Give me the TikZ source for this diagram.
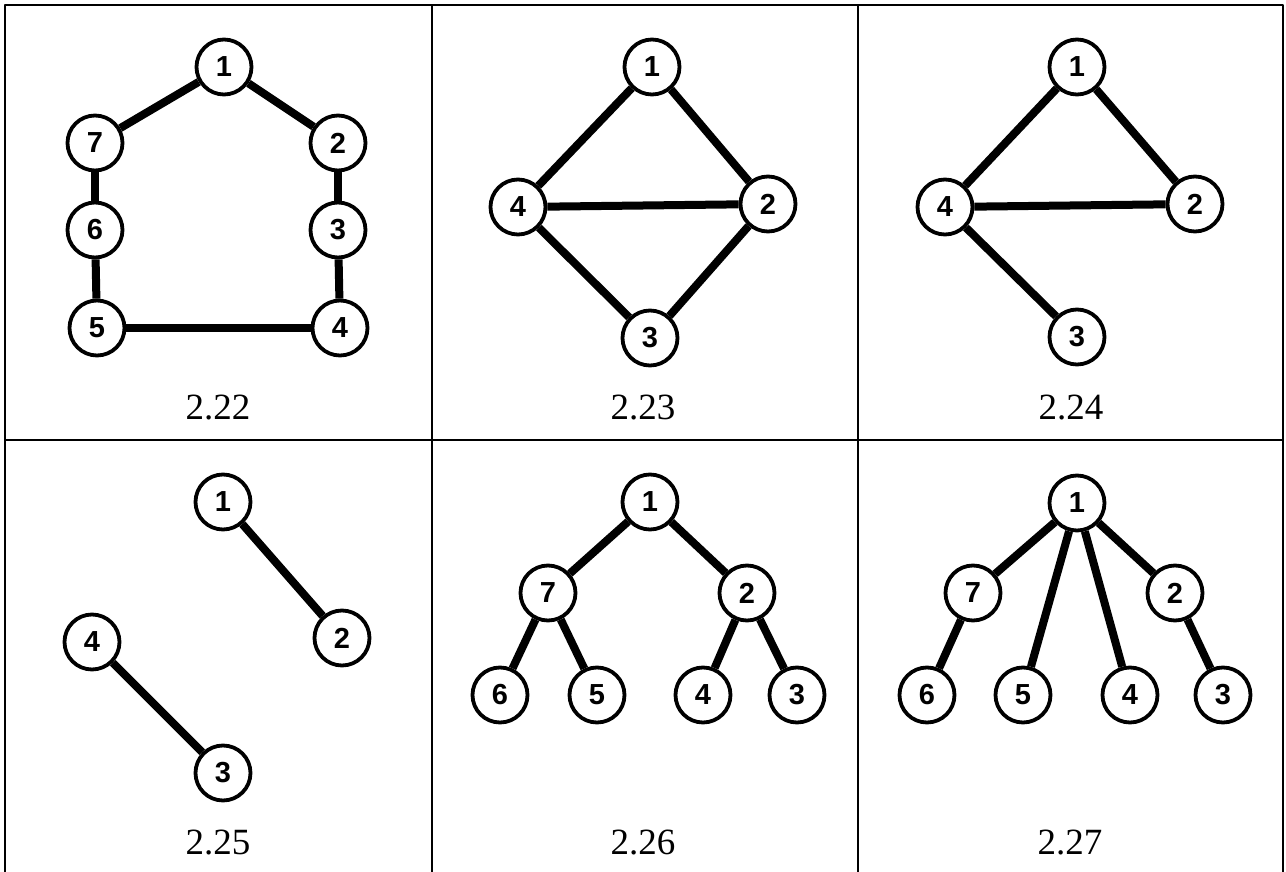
\documentclass[tikz,border=0pt]{standalone}
\usepackage{fontspec}
\setmainfont{Liberation Serif}
\newfontfamily\vtxfont{Liberation Sans}
\begin{document}
\begin{tikzpicture}[x=1pt, y=-1pt, line join=round,
	vtx/.style={circle, draw, fill=white, line width=3.8pt, minimum size=55pt, inner sep=0pt, font=\vtxfont\bfseries\fontsize{29}{31}\selectfont},
	edg/.style={line width=8pt},
	figlbl/.style={font=\fontsize{37}{42}\selectfont},
	grid/.style={line width=2.2pt}]
	\useasboundingbox (0,0) rectangle (1286,872);
	% ==========================================
	% table
	\draw[grid] (5,872) -- (5,5) -- (1283,5) -- (1283,872);
	\draw[grid] (432,5) -- (432,872) (858,5) -- (858,872);
	\draw[grid] (5,440) -- (1283,440);
	% ==========================================
	% 2.22
	\node[vtx] (a1) at (224,67) {1};
	\node[vtx] (a2) at (338,143) {2};
	\node[vtx] (a3) at (338,230) {3};
	\node[vtx] (a4) at (340,328) {4};
	\node[vtx] (a5) at (97,328) {5};
	\node[vtx] (a6) at (95,230) {6};
	\node[vtx] (a7) at (95,143) {7};
	\foreach \u/\v in {1/2, 2/3, 3/4, 4/5, 5/6, 6/7, 7/1}
		\draw[edg] (a\u) -- (a\v);
	\node[figlbl] (capa) at (218,408) {2.22};
	% ==========================================
	% 2.23
	\node[vtx] (b1) at (652,67) {1};
	\node[vtx] (b2) at (768,204) {2};
	\node[vtx] (b3) at (650,338) {3};
	\node[vtx] (b4) at (518,207) {4};
	\foreach \u/\v in {1/2, 2/3, 3/4, 4/1, 4/2}
		\draw[edg] (b\u) -- (b\v);
	\node[figlbl] (capb) at (643,408) {2.23};
	% ==========================================
	% 2.24
	\node[vtx] (c1) at (1077,67) {1};
	\node[vtx] (c2) at (1195,204) {2};
	\node[vtx] (c3) at (1077,337) {3};
	\node[vtx] (c4) at (945,207) {4};
	\foreach \u/\v in {1/2, 4/1, 4/2, 4/3}
		\draw[edg] (c\u) -- (c\v);
	\node[figlbl] (capc) at (1071,408) {2.24};
	% ==========================================
	% 2.25
	\node[vtx] (d1) at (223,502) {1};
	\node[vtx] (d2) at (342,638) {2};
	\node[vtx] (d3) at (223,773) {3};
	\node[vtx] (d4) at (92,642) {4};
	\draw[edg] (d1) -- (d2) (d4) -- (d3);
	\node[figlbl] (capd) at (218,843) {2.25};
	% ==========================================
	% 2.26
	\node[vtx] (e1) at (650,502) {1};
	\node[vtx] (e7) at (548,593) {7};
	\node[vtx] (e2) at (747,593) {2};
	\node[vtx] (e6) at (500,695) {6};
	\node[vtx] (e5) at (597,695) {5};
	\node[vtx] (e4) at (703,695) {4};
	\node[vtx] (e3) at (797,695) {3};
	\foreach \u/\v in {1/7, 1/2, 7/6, 7/5, 2/4, 2/3}
		\draw[edg] (e\u) -- (e\v);
	\node[figlbl] (cape) at (643,843) {2.26};
	% ==========================================
	% 2.27
	\node[vtx] (f1) at (1077,503) {1};
	\node[vtx] (f7) at (973,593) {7};
	\node[vtx] (f2) at (1175,593) {2};
	\node[vtx] (f6) at (927,695) {6};
	\node[vtx] (f5) at (1023,695) {5};
	\node[vtx] (f4) at (1130,695) {4};
	\node[vtx] (f3) at (1223,695) {3};
	\foreach \u/\v in {1/7, 1/5, 1/4, 1/2, 7/6, 2/3}
		\draw[edg] (f\u) -- (f\v);
	\node[figlbl] (capf) at (1070,843) {2.27};
\end{tikzpicture}
\end{document}
